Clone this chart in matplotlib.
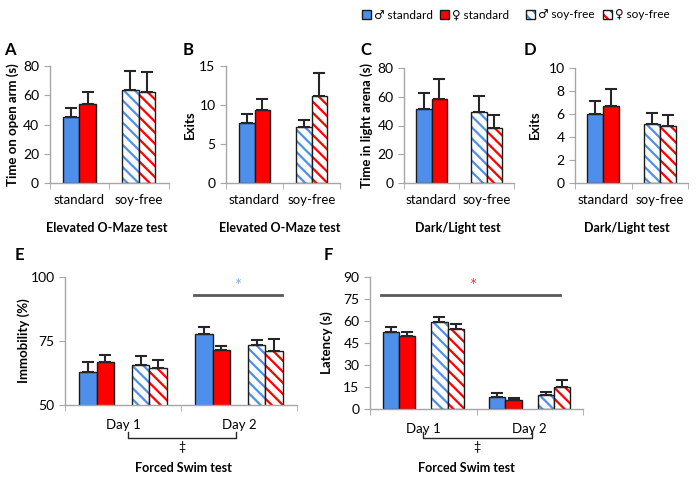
import matplotlib
matplotlib.use("Agg")
import matplotlib.pyplot as plt
from matplotlib.patches import Patch
import numpy as np

W, H = 700, 482

# order in every panel: male standard, female standard, male soy-free, female soy-free
diets = ['standard', 'soy-free']
days = ['Day 1', 'Day 2']

openarm_mean = [44.9, 53.8, 63.5, 62.0]
openarm_err = [6.1, 8.5, 12.9, 14.0]
omaze_exits_mean = [7.65, 9.3, 7.2, 11.2]
omaze_exits_err = [1.2, 1.5, 0.85, 2.9]
lightarena_mean = [51.5, 58.5, 49.5, 38.0]
lightarena_err = [10.8, 14.0, 11.0, 9.0]
dl_exits_mean = [6.0, 6.7, 5.1, 5.0]
dl_exits_err = [1.15, 1.5, 1.0, 0.95]

immob_day1 = [62.9, 66.7, 65.5, 64.4]
immob_day1_err = [3.8, 3.0, 3.8, 3.1]
immob_day2 = [77.8, 71.7, 73.6, 71.1]
immob_day2_err = [2.9, 1.4, 1.9, 4.6]
latency_day1 = [52.5, 49.8, 59.3, 55.0]
latency_day1_err = [3.9, 3.2, 3.9, 3.2]
latency_day2 = [8.4, 6.1, 10.0, 15.2]
latency_day2_err = [2.7, 1.9, 1.8, 4.8]

legend_labels = ['\u2642 standard', '\u2640 standard', '\u2642 soy-free', '\u2640 soy-free']

BLUE = '#4f8fec'
RED = '#ff0000'
HATCH = '\\\\\\'
EDGE = '#1a1a1a'
SPINE = '#a6a6a6'

plt.rcParams['font.family'] = ['Lato', 'DejaVu Sans']
plt.rcParams['hatch.linewidth'] = 1.6

fig = plt.figure(figsize=(7, 4.82), dpi=100)


def box(l, t, r, b):
    return [l / W, 1 - b / H, (r - l) / W, (b - t) / H]


def fx(x):
    return x / W


def fy(y):
    return 1 - y / H


def draw_bar(ax, x, h, err, w, color, hatched):
    if hatched:
        ax.bar(x, h, w, color='white', edgecolor=color, hatch=HATCH, linewidth=0)
        ax.bar(x, h, w, fill=False, edgecolor=EDGE, linewidth=1)
    else:
        ax.bar(x, h, w, color=color, edgecolor=EDGE, linewidth=1)
    ax.errorbar(x, h, yerr=[[0], [err]], fmt='none', ecolor='#262626',
                elinewidth=1.5, capsize=4, capthick=1.5)


def style_axes(ax, n, labels, ylim, yticks):
    ax.set_xlim(-0.5, n - 0.5)
    ax.set_ylim(*ylim)
    ax.set_yticks(yticks)
    ax.set_xticks(range(n))
    ax.set_xticklabels(labels)
    ax.set_xticks(np.arange(-0.5, n, 1.0), minor=True)
    ax.tick_params(axis='x', which='major', length=0, labelsize=9.5, pad=8)
    ax.tick_params(axis='x', which='minor', length=4, color=SPINE, direction='out')
    ax.tick_params(axis='y', length=4, color=SPINE, labelsize=10)
    for s in ['top', 'right']:
        ax.spines[s].set_visible(False)
    for s in ['left', 'bottom']:
        ax.spines[s].set_color(SPINE)
        ax.spines[s].set_linewidth(1)


def diet_panel(rect, means, errs, ylim, yticks):
    ax = fig.add_axes(box(*rect))
    w = 0.28
    colors = [BLUE, RED, BLUE, RED]
    for i in range(4):
        g = i // 2
        off = -w / 2 if i % 2 == 0 else w / 2
        draw_bar(ax, g + off, means[i], errs[i], w, colors[i], g == 1)
    style_axes(ax, 2, diets, ylim, yticks)
    return ax


def day_panel(rect, day_means, day_errs, ylim, yticks):
    ax = fig.add_axes(box(*rect))
    w = 0.152
    offs = [-2 * w, -w, w, 2 * w]
    colors = [BLUE, RED, BLUE, RED]
    for g in range(2):
        for i in range(4):
            draw_bar(ax, g + offs[i], day_means[g][i], day_errs[g][i], w,
                     colors[i], i >= 2)
    style_axes(ax, 2, days, ylim, yticks)
    ax.tick_params(axis='x', which='major', pad=10)
    return ax


axA = diet_panel((49.5, 66, 168.5, 183), openarm_mean, openarm_err, (0, 80), [0, 20, 40, 60, 80])
axB = diet_panel((226, 66, 340, 183), omaze_exits_mean, omaze_exits_err, (0, 15), [0, 5, 10, 15])
axC = diet_panel((404, 68, 514, 183), lightarena_mean, lightarena_err, (0, 80), [0, 20, 40, 60, 80])
axD = diet_panel((575, 68, 688, 183), dl_exits_mean, dl_exits_err, (0, 10), [0, 2, 4, 6, 8, 10])

axE = day_panel((65, 277.3, 297, 405), [immob_day1, immob_day2],
                [immob_day1_err, immob_day2_err], (50, 100), [50, 75, 100])
axF = day_panel((370, 277.3, 583, 409.3), [latency_day1, latency_day2],
                [latency_day1_err, latency_day2_err], (0, 90), [0, 15, 30, 45, 60, 75, 90])

# significance bars
axE.plot([0.61, 1.37], [93.2, 93.2], color='#595959', lw=2, clip_on=False)
axE.text(0.99, 96.4, '*', color='#7fb0ea', ha='center', va='center', fontsize=12)
axF.plot([-0.40, 1.28], [78.0, 78.0], color='#595959', lw=2, clip_on=False)
axF.text(0.46, 84.0, '*', color='#f03c3c', ha='center', va='center', fontsize=12)

# y labels
ylab = dict(rotation=90, ha='center', va='center', fontsize=9.5, fontweight='bold')
fig.text(fx(13), fy(125), 'Time on open arm (s)', **ylab)
fig.text(fx(190), fy(125), 'Exits', **ylab)
fig.text(fx(367), fy(125), 'Time in light arena (s)', **ylab)
fig.text(fx(535), fy(125), 'Exits', **ylab)
fig.text(fx(24), fy(341), 'Immobility (%)', **ylab)
fig.text(fx(327), fy(343), 'Latency (s)', **ylab)

# panel letters
let = dict(ha='center', va='center', fontsize=12, fontweight='bold')
for s, x, y in [('A', 10, 50), ('B', 188, 50), ('C', 366, 50), ('D', 530, 50),
                ('E', 19, 255), ('F', 328, 255)]:
    fig.text(fx(x), fy(y), s, **let)

# test titles
tt = dict(ha='center', va='center', fontsize=9, fontweight='bold')
fig.text(fx(107), fy(228), 'Elevated O-Maze test', **tt)
fig.text(fx(280), fy(228), 'Elevated O-Maze test', **tt)
fig.text(fx(458), fy(228), 'Dark/Light test', **tt)
fig.text(fx(627), fy(228), 'Dark/Light test', **tt)
fig.text(fx(183), fy(468), 'Forced Swim test', **tt)
fig.text(fx(466), fy(468), 'Forced Swim test', **tt)

# day-effect brackets
for x0, x1 in [(127.7, 235.7), (422.7, 531.7)]:
    fig.add_artist(plt.Line2D([fx(x0), fx(x0), fx(x1), fx(x1)],
                              [fy(432), fy(438), fy(438), fy(432)],
                              color='#262626', lw=1))
    fig.text(fx((x0 + x1) / 2), fy(447), '\u2021', ha='center', va='center', fontsize=9)


# legend, one entry per legend so each sits where the reference has it
def hatched_handle(color):
    return (Patch(facecolor='white', edgecolor=color, hatch=HATCH, linewidth=0),
            Patch(fill=False, edgecolor=EDGE, linewidth=1))


handles = [Patch(facecolor=BLUE, edgecolor=EDGE), Patch(facecolor=RED, edgecolor=EDGE),
           hatched_handle(BLUE), hatched_handle(RED)]
leg_kw = dict(frameon=False, fontsize=8.5, handlelength=0.8, handleheight=0.8,
              handletextpad=0.25, borderpad=0, borderaxespad=0, loc='center left')
for h, lab, x in zip(handles, legend_labels, [362, 440, 526, 603]):
    fig.legend([h], [lab], bbox_to_anchor=(fx(x), fy(15)), **leg_kw)

fig.savefig('out.png', dpi=100)
